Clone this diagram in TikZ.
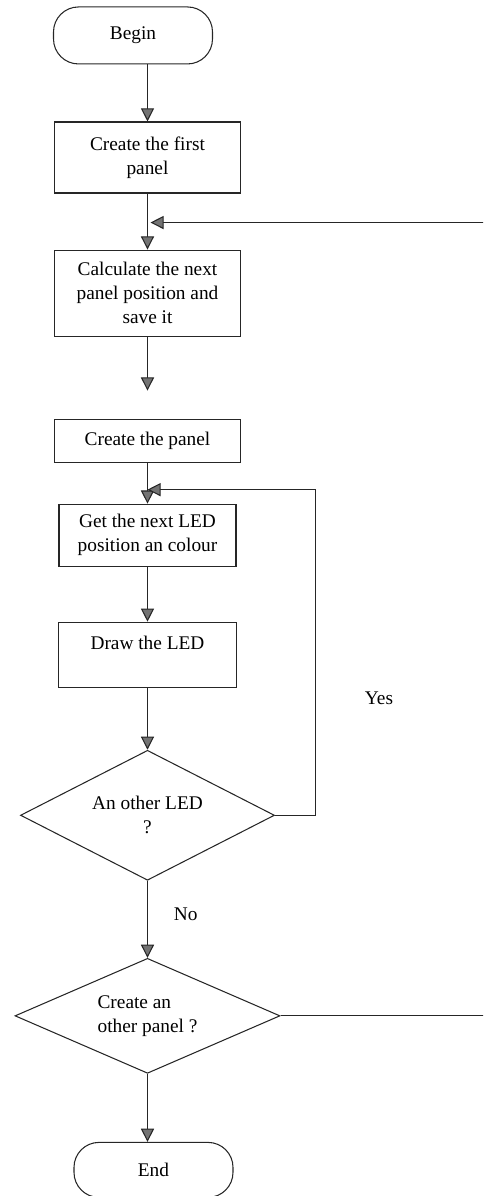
\documentclass[tikz,border=0pt]{standalone}
\usepackage{fontspec}
\setmainfont{Liberation Serif}
\usetikzlibrary{shapes, arrows.meta, positioning}

\begin{document}
\begin{tikzpicture}[every node/.style={font=\fontsize{11}{13.5}\selectfont}, >={Triangle[length=7.5pt, width=7.5pt, fill=black!55]}, line width=0.6pt]
  % Define styles
  \tikzstyle{block} = [rectangle, draw=black!85, minimum width=3.72cm, align=center, inner sep=2pt]
  \tikzstyle{term} = [rectangle, rounded corners=0.5cm, draw=black!85, minimum width=3.18cm, minimum height=1.14cm]
  \tikzstyle{decision} = [diamond, aspect=2, draw=black!85, align=center, inner sep=0pt]
  \tikzstyle{arr} = [->, draw=black!85]

  % Page frame
  \useasboundingbox (0,0) rectangle (9.66,-23.92);
  \clip (0,0) rectangle (9.66,-23.92);

  % Nodes
  \node[block, minimum height=1.42cm] (first) at (2.95,-3.15) {Create the first\\panel};
  \node[term, above=1.14cm of first, xshift=-0.29cm] (begin) {Begin};
  \node[block, minimum height=1.72cm, below=1.12cm of first] (nextpos) {Calculate the next\\panel position and\\save it};
  \node[block, minimum height=0.86cm, below=1.64cm of nextpos] (panel) {Create the panel};
  \node[block, minimum width=3.54cm, minimum height=1.24cm, below=0.82cm of panel] (getled) {Get the next LED\\position an colour};
  \node[block, minimum width=3.56cm, minimum height=1.3cm, below=1.1cm of getled] (drawled) {Draw the LED\\~};
  \node[decision, minimum width=5.08cm, minimum height=2.6cm, below=1.24cm of drawled] (moreled) {An other LED\\?};
  \node[decision, minimum width=5.3cm, minimum height=2.3cm, below=1.54cm of moreled, align=left] (morepanel) {Create an\\other panel ?};
  \node[term, minimum height=1.1cm, below=1.36cm of morepanel, xshift=0.12cm] (end) {End};

  % Arrows
  \draw[arr] (begin.south -| first.north) -- (first.north);
  \draw[arr] (first) -- (nextpos);
  \draw[arr, shorten >=0.56cm] (nextpos) -- (panel);
  \draw[arr] (panel) -- (getled);
  \draw[arr] (getled) -- (drawled);
  \draw[arr] (drawled) -- (moreled);
  \draw[arr] (moreled) -- node[right, pos=0.44, xshift=0.4cm] (no) {No} (morepanel);
  \draw[arr] (morepanel.south) -- (morepanel.south |- end.north);

  % Loops back up
  \draw[arr] (moreled.east) -- ++(0.8,0) |- node[right, pos=0.18, xshift=0.87cm] (yes) {Yes} ([yshift=0.28cm]getled.north);
  \draw[arr] (morepanel.east) -- ++(4.5,0) |- ([xshift=0.06cm, yshift=0.54cm]nextpos.north);
\end{tikzpicture}
\end{document}
